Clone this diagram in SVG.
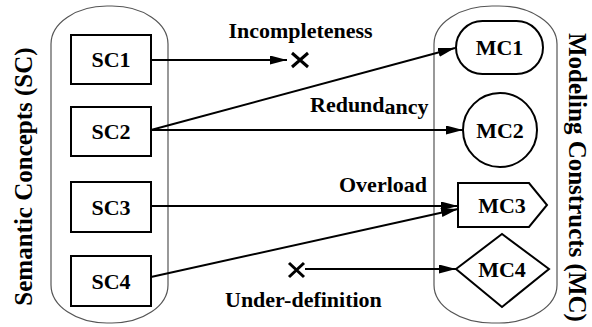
<svg xmlns="http://www.w3.org/2000/svg" width="592" height="327" viewBox="0 0 592 327">
<style>
text{font-family:'Liberation Serif','DejaVu Serif',serif;font-weight:700;fill:#000}
.t{font-size:22px}
.n{font-size:22px;text-anchor:middle}
.v{font-size:25px}
.cont{fill:none;stroke:#555;stroke-width:1.2}
.shape{fill:#fff;stroke:#000;stroke-width:2}
.conn{fill:none;stroke:#000;stroke-width:2}
.x{fill:none;stroke:#000;stroke-width:3}
</style>
<defs>
<marker id="ah" markerUnits="userSpaceOnUse" markerWidth="18" markerHeight="10" refX="17" refY="4.5" orient="auto">
<path d="M0,0 L17,4.5 L0,9 z" fill="#000"/>
</marker>
</defs>
<rect width="592" height="327" fill="#fff"/>
<g id="sc-container">
<rect class="cont" x="51" y="6" width="117" height="317" rx="56" ry="38"/>
<text class="v" text-anchor="middle" transform="translate(32,176.5) rotate(-90)">Semantic Concepts (SC)</text>
</g>
<g id="mc-container">
<rect class="cont" x="434" y="6" width="123" height="317" rx="58" ry="38"/>
<text class="v" transform="translate(569,33) rotate(90)">Modeling Constructs (MC)</text>
</g>
<g id="connectors">
<path class="conn" d="M151,60 L287,60" marker-end="url(#ah)"/>
<path class="conn" d="M151,130 L455,48" marker-end="url(#ah)"/>
<path class="conn" d="M151,130 L463,130" marker-end="url(#ah)"/>
<path class="conn" d="M151,206 L458,206" marker-end="url(#ah)"/>
<path class="conn" d="M151,277 L458,209" marker-end="url(#ah)"/>
<path class="conn" d="M305,269 L456,269" marker-end="url(#ah)"/>
<path class="x" d="M292,53 L308,67 M308,53 L292,67"/>
<path class="x" d="M289,263 L304,277 M304,263 L289,277"/>
<text class="t" text-anchor="middle" x="300.5" y="38">Incompleteness</text>
<text class="t" x="310" y="112">Redund<tspan dy="2">ancy</tspan></text>
<text class="t" text-anchor="middle" x="383" y="192">Overload</text>
<text class="t" x="225" y="307">Under-definition</text>
</g>
<g id="SC1"><rect class="shape" x="71" y="35" width="80" height="49"/><text class="n" x="111" y="67">SC1</text></g>
<g id="SC2"><rect class="shape" x="71" y="107" width="80" height="49"/><text class="n" x="111" y="139">SC2</text></g>
<g id="SC3"><rect class="shape" x="71" y="182" width="80" height="50"/><text class="n" x="111" y="214.5">SC3</text></g>
<g id="SC4"><rect class="shape" x="71" y="256" width="80" height="50"/><text class="n" x="111" y="288.5">SC4</text></g>
<g id="MC1"><rect class="shape" x="456" y="21" width="87" height="53" rx="26.5"/><text class="n" x="499.5" y="55">MC1</text></g>
<g id="MC2"><circle class="shape" cx="500" cy="130" r="37"/><text class="n" x="500" y="137.5">MC2</text></g>
<g id="MC3"><polygon class="shape" points="458,183 529,183 547,205 529,227 458,227"/><text class="n" x="502" y="212.5">MC3</text></g>
<g id="MC4"><polygon class="shape" points="456,269 502,234 549,269 502,307"/><text class="n" x="502" y="276.5">MC4</text></g>
</svg>
